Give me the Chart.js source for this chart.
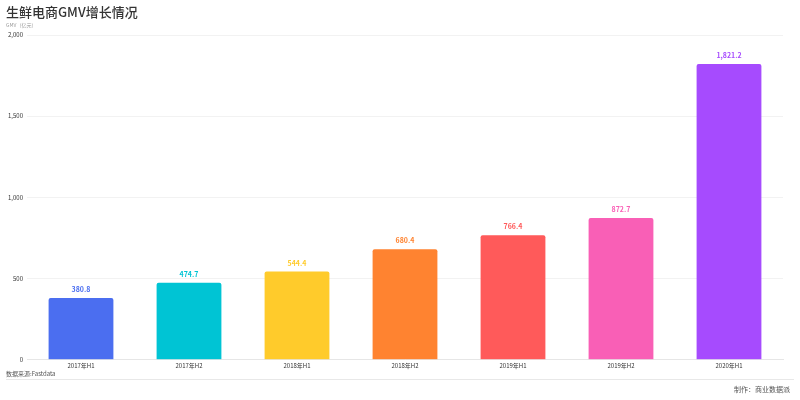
<!DOCTYPE html>
<html>
<head>
<meta charset="utf-8">
<script src="https://cdn.jsdelivr.net/npm/chart.js@4/dist/chart.umd.min.js"></script>
<style>
  body { margin: 0; background: #fff; }
  #wrap { width: 800px; height: 400px; }
</style>
</head>
<body>
<div id="wrap"><canvas id="gmv"></canvas></div>
<script>
const periods = ['2017年H1', '2017年H2', '2018年H1', '2018年H2', '2019年H1', '2019年H2', '2020年H1'];
const gmv = [380.8, 474.7, 544.4, 680.4, 766.4, 872.7, 1821.2];
const barColors = ['#4b6ef0', '#00c4d4', '#ffcb2b', '#ff8330', '#ff5a5a', '#f95fb6', '#a64bfe'];
const yTicks = [0, 500, 1000, 1500, 2000];

const FONT = '"Noto Sans CJK SC", "Noto Sans", sans-serif';

// labels above bars + title / footer texts
const extras = {
    id: 'extras',
    afterDatasetsDraw(chart) {
        const ctx = chart.ctx;
        const meta = chart.getDatasetMeta(0);
        ctx.save();
        ctx.textAlign = 'center';
        ctx.textBaseline = 'bottom';
        ctx.font = 'bold 7px ' + FONT;
        meta.data.forEach((bar, i) => {
            ctx.fillStyle = barColors[i];
            ctx.fillText(gmv[i].toLocaleString('en-US', {minimumFractionDigits: 1}), bar.x, bar.y - 5);
        });
        ctx.restore();
    },
    afterDraw(chart) {
        const ctx = chart.ctx;
        ctx.save();
        ctx.textBaseline = 'middle';
        ctx.textAlign = 'left';
        ctx.fillStyle = '#333';
        ctx.font = '500 13px ' + FONT;
        ctx.fillText('生鲜电商GMV增长情况', 6, 12);
        ctx.fillStyle = '#999';
        ctx.font = '5px ' + FONT;
        ctx.fillText('GMV（亿元）', 6, 25);
        ctx.fillStyle = '#555';
        ctx.font = '6px ' + FONT;
        ctx.fillText('数据来源:Fastdata', 6, 374);
        ctx.strokeStyle = '#e8e8e8';
        ctx.lineWidth = 1;
        ctx.beginPath();
        ctx.moveTo(6, 379.5);
        ctx.lineTo(794, 379.5);
        ctx.stroke();
        ctx.textAlign = 'right';
        ctx.fillStyle = '#555';
        ctx.font = '7px ' + FONT;
        ctx.fillText('制作：商业数据派', 790, 389);
        ctx.restore();
    }
};

new Chart(document.getElementById('gmv').getContext('2d'), {
    type: 'bar',
    data: {
        labels: periods,
        datasets: [{
            data: gmv,
            backgroundColor: barColors,
            borderRadius: 2,
            borderSkipped: 'bottom',
            categoryPercentage: 0.6,
            barPercentage: 1.0
        }]
    },
    options: {
        responsive: true,
        maintainAspectRatio: false,
        animation: false,
        layout: { padding: { top: 35, left: 6, right: 17, bottom: 29 } },
        plugins: { legend: { display: false }, tooltip: { enabled: false } },
        scales: {
            x: {
                grid: { display: false, drawTicks: false, tickLength: 0 },
                border: { color: '#e6e6e6' },
                ticks: { color: '#333', font: { size: 6, family: FONT }, padding: 2, maxRotation: 0, autoSkip: false }
            },
            y: {
                min: 0, max: 2000,
                afterBuildTicks(s) { s.ticks = yTicks.map(v => ({ value: v })); },
                grid: { color: '#f2f2f2', drawTicks: false },
                border: { display: false },
                ticks: {
                    color: '#333', font: { size: 6, family: FONT }, padding: 4,
                    callback: v => v.toLocaleString('en-US')
                },
                afterFit(s) { s.width = 21; }
            }
        }
    },
    plugins: [extras]
});
</script>
</body>
</html>
